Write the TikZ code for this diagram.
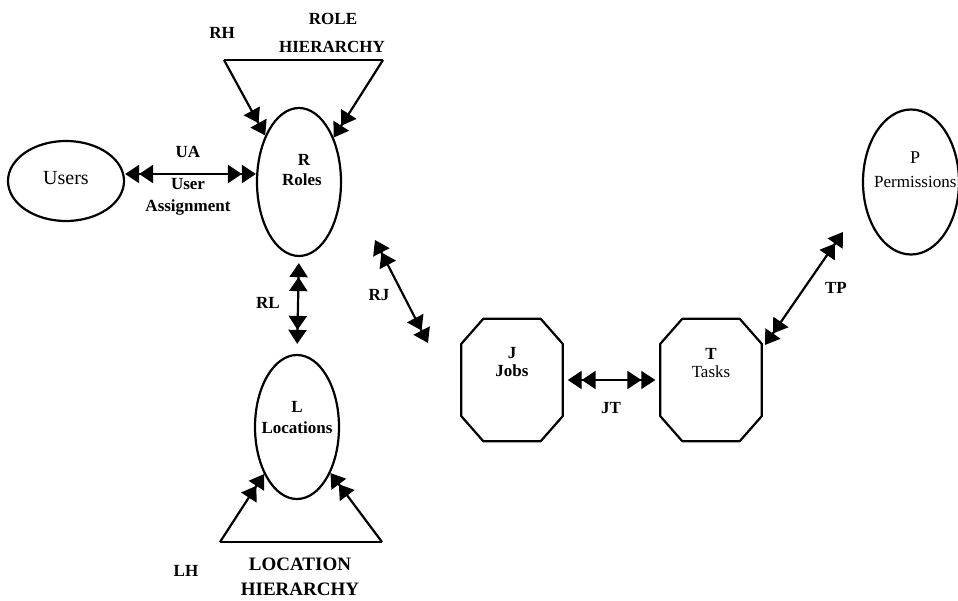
\documentclass[tikz,border=0pt]{standalone}
\usepackage{fontspec}
\setmainfont{Liberation Serif}
\usetikzlibrary{arrows.meta,shapes.geometric}
\newcommand\octoshape[1]{%
  \draw[shp] ([xshift=22pt]#1.north west) -- ([xshift=-22pt]#1.north east)
    -- ([yshift=-25pt]#1.north east) -- ([yshift=25pt]#1.south east)
    -- ([xshift=-22pt]#1.south east) -- ([xshift=22pt]#1.south west)
    -- ([yshift=25pt]#1.south west) -- ([yshift=-25pt]#1.north west) -- cycle;}
\begin{document}
\begin{tikzpicture}[x=1pt,y=-1pt,
  shp/.style={draw, line width=2.2pt, line join=round},
  ell/.style={shp, ellipse, inner sep=0pt},
  octo/.style={inner sep=0pt, minimum width=101pt, minimum height=122pt},
  lbl/.style={inner sep=0pt, font=\fontsize{17}{19}\selectfont},
  blbl/.style={inner sep=0pt, font=\fontsize{17}{19}\selectfont\bfseries},
  dbl/.style={line width=2.2pt, >={Triangle[length=14pt,width=18pt]}, <<->>},
  one/.style={line width=2.2pt, line join=round, >={Triangle[length=14pt,width=18pt]}, ->>},
]
\useasboundingbox (0,0) rectangle (958,601);

% shapes
\node[ell, minimum width=116pt, minimum height=80pt] (users) at (66,181) {};
\node[ell, minimum width=84pt, minimum height=148pt] (roles) at (299,182) {};
\node[ell, minimum width=84pt, minimum height=144pt] (locs) at (297,427) {};
\node[ell, minimum width=96pt, minimum height=145pt] (perms) at (911,182) {};
\node[octo] (jobs) at (512,380) {};
\node[octo] (tasks) at (711,380) {};
\octoshape{jobs}
\octoshape{tasks}

% hierarchy triangles
\coordinate (rhL) at (224,60);
\coordinate (rhR) at (383,60);
\draw[shp] (rhL) -- (rhR);
\draw[one] (rhL) -- (roles.126);
\draw[one] (rhR) -- (roles.52);

\coordinate (lhL) at (220,542);
\coordinate (lhR) at (382,542);
\draw[shp] (lhL) -- (lhR);
\draw[one] (lhL) -- (locs.235);
\draw[one] (lhR) -- (locs.306);

% connectors
\draw[dbl] ([yshift=7pt]users.east) -- ([yshift=8pt]roles.west);
\draw[dbl, shorten <=6pt, shorten >=10pt] (roles.south) -- (locs.north);
\coordinate (rj1) at (375,240);
\coordinate (rj2) at (428,343);
\draw[dbl] (rj1) -- (rj2);
\draw[dbl, shorten <=5pt, shorten >=5pt] (jobs.east) -- (tasks.west);
\coordinate (tp1) at (765,345);
\coordinate (tp2) at (843,232);
\draw[dbl] (tp1) -- (tp2);

% texts
\node[blbl] (tRH) at (222,33) {RH};
\node[blbl] (tROLE) at (333,19) {ROLE};
\node[blbl] (tHIER) at (332,47) {HIERARCHY};
\node[lbl, font=\fontsize{20}{22}\selectfont] (tUsers) at (66,178) {Users};
\node[blbl] (tUA) at (188,152) {UA};
\node[blbl] (tUser) at (188,184) {User};
\node[blbl] (tAssign) at (188,207) {Assignment};
\node[blbl] (tR) at (304,160) {R};
\node[blbl] (tRoles) at (302,180) {Roles};
\node[blbl] (tRL) at (268,303) {RL};
\node[blbl] (tRJ) at (379,295) {RJ};
\node[blbl] (tL) at (297,407) {L};
\node[blbl] (tLoc) at (297,428) {Locations};
\node[blbl] (tJ) at (512,353) {J};
\node[blbl] (tJobs) at (512,371) {Jobs};
\node[blbl] (tT) at (711,354) {T};
\node[lbl] (tTasks) at (711,372) {Tasks};
\node[blbl] (tJT) at (611,408) {JT};
\node[blbl] (tTP) at (836,288) {TP};
\node[lbl, font=\fontsize{18}{20}\selectfont] (tP) at (915,158) {P};
\node[lbl, anchor=west] (tPerm) at (874,182) {Permissions};
\node[blbl, font=\fontsize{19}{21}\selectfont\bfseries] (tLOC) at (300,564) {LOCATION};
\node[blbl, font=\fontsize{19}{21}\selectfont\bfseries] (tLHIER) at (300,589) {HIERARCHY};
\node[blbl] (tLH) at (186,571) {LH};
\end{tikzpicture}
\end{document}
